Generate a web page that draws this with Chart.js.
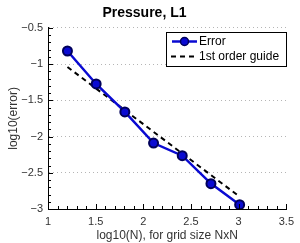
<!DOCTYPE html>
<html>
<head>
<meta charset="utf-8">
<script src="https://cdn.jsdelivr.net/npm/chart.js@4/dist/chart.umd.min.js"></script>
<style>
  html, body { margin: 0; padding: 0; background: #fff; }
  #wrap { width: 300px; height: 243px; }
</style>
</head>
<body>
<div id="wrap"><canvas id="c" width="300" height="243"></canvas></div>
<script>
// values
const logN = [1.204, 1.505, 1.806, 2.107, 2.408, 2.709, 3.010];
const logErr = [-0.82, -1.275, -1.66, -2.09, -2.265, -2.65, -2.94];
const guideX = [1.204, 3.010];
const guideY = [-1.04, -2.83];
const xTicks = [1, 1.5, 2, 2.5, 3, 3.5];
const yTicks = [-3, -2.5, -2, -1.5, -1, -0.5];

const FONT = '"Liberation Sans", Arial, sans-serif';
const BLUE = '#0a0ad2';

function fmt(v) {
    return String(v).replace('-', '\u2212');
}

// inward major/minor ticks on both axes
const tickMarks = {
    id: 'tickMarks',
    afterDatasetsDraw(chart) {
        const { ctx, chartArea: a, scales: { x, y } } = chart;
        ctx.save();
        ctx.strokeStyle = '#000';
        ctx.lineWidth = 1;
        ctx.beginPath();
        for (let i = 10; i <= 35; i++) {
            const px = Math.round(x.getPixelForValue(i / 10)) + 0.5;
            const len = i % 5 === 0 ? 5 : 3;
            ctx.moveTo(px, a.bottom);
            ctx.lineTo(px, a.bottom - len);
        }
        for (let i = -30; i <= -5; i++) {
            const py = Math.round(y.getPixelForValue(i / 10)) + 0.5;
            const len = i % 5 === 0 ? 5 : 3;
            ctx.moveTo(a.left, py);
            ctx.lineTo(a.left + len, py);
        }
        ctx.stroke();
        ctx.restore();
    }
};

// boxed legend inside the plot, top right
const boxLegend = {
    id: 'boxLegend',
    afterDraw(chart) {
        const ctx = chart.ctx;
        const bx = 166, by = 32, bw = 120, bh = 34;
        ctx.save();
        ctx.fillStyle = '#fff';
        ctx.fillRect(bx, by, bw, bh);
        ctx.strokeStyle = '#000';
        ctx.lineWidth = 1;
        ctx.strokeRect(bx + 0.5, by + 0.5, bw, bh);

        // Error row
        ctx.strokeStyle = BLUE;
        ctx.lineWidth = 2.5;
        ctx.beginPath();
        ctx.moveTo(172, 41.5);
        ctx.lineTo(197, 41.5);
        ctx.stroke();
        ctx.beginPath();
        ctx.arc(184.5, 41.5, 4, 0, Math.PI * 2);
        ctx.fillStyle = BLUE;
        ctx.fill();
        ctx.lineWidth = 1.5;
        ctx.strokeStyle = '#00005a';
        ctx.stroke();

        // guide row
        ctx.strokeStyle = '#000';
        ctx.lineWidth = 2;
        ctx.setLineDash([5, 4]);
        ctx.beginPath();
        ctx.moveTo(171, 56.5);
        ctx.lineTo(197, 56.5);
        ctx.stroke();
        ctx.setLineDash([]);

        ctx.fillStyle = '#000';
        ctx.font = '12px ' + FONT;
        ctx.textBaseline = 'middle';
        ctx.fillText('Error', 199, 42);
        ctx.fillText('1st order guide', 199, 57);
        ctx.restore();
    }
};

new Chart(document.getElementById('c'), {
    type: 'scatter',
    data: {
        datasets: [
            {
                label: 'Error',
                data: logN.map((v, i) => ({ x: v, y: logErr[i] })),
                showLine: true,
                borderColor: BLUE,
                borderWidth: 2.5,
                pointRadius: 4.5,
                pointBackgroundColor: BLUE,
                pointBorderColor: '#00005a',
                pointBorderWidth: 2,
                order: 1
            },
            {
                label: '1st order guide',
                data: guideX.map((v, i) => ({ x: v, y: guideY[i] })),
                showLine: true,
                borderColor: '#000',
                borderWidth: 2,
                borderDash: [5, 4],
                pointRadius: 0,
                order: 2
            }
        ]
    },
    options: {
        responsive: false,
        animation: false,
        layout: { padding: { right: 11 } },
        plugins: {
            legend: { display: false },
            tooltip: { enabled: false },
            title: {
                display: true,
                text: 'Pressure, L1',
                color: '#000',
                font: { family: FONT, size: 14, weight: 'bold' },
                padding: { top: 5, bottom: 6 }
            }
        },
        scales: {
            x: {
                type: 'linear',
                min: 1,
                max: 3.5,
                afterBuildTicks: s => { s.ticks = xTicks.map(v => ({ value: v })); },
                afterFit: s => { s.height = 34; },
                grid: { display: false, drawTicks: false },
                border: { color: '#000', width: 1 },
                ticks: {
                    color: '#333',
                    padding: 6,
                    font: { family: FONT, size: 11 },
                    callback: v => fmt(v)
                },
                title: {
                    display: true,
                    text: 'log10(N), for grid size NxN',
                    color: '#333',
                    font: { family: FONT, size: 12 },
                    padding: { top: 0, bottom: 0 }
                }
            },
            y: {
                type: 'linear',
                min: -3,
                max: -0.5,
                afterBuildTicks: s => { s.ticks = yTicks.map(v => ({ value: v })); },
                afterFit: s => { s.width = 48; },
                grid: {
                    color: '#b5b5b5',
                    lineWidth: 1,
                    drawTicks: false
                },
                border: { color: '#000', width: 1, dash: [1, 3] },
                ticks: {
                    color: '#333',
                    padding: 5,
                    font: { family: FONT, size: 11 },
                    callback: v => fmt(v)
                },
                title: {
                    display: true,
                    text: 'log10(error)',
                    color: '#333',
                    font: { family: FONT, size: 12 },
                    padding: { top: 6, bottom: 0 }
                }
            }
        }
    },
    plugins: [tickMarks, boxLegend]
});
</script>
</body>
</html>
